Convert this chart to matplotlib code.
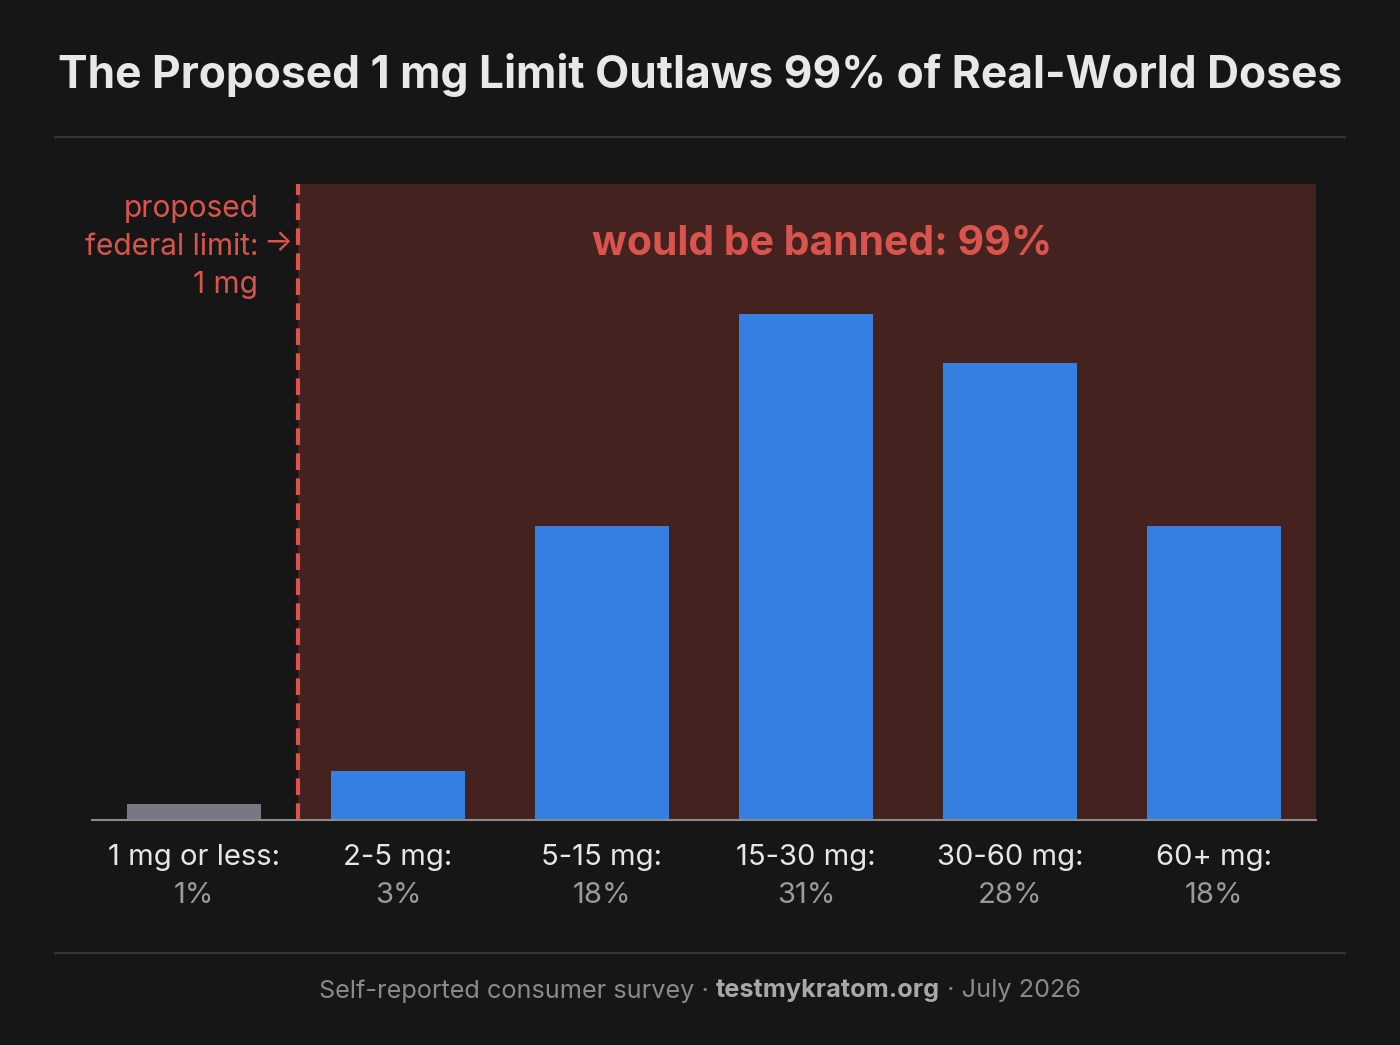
import matplotlib
matplotlib.use("Agg")
import matplotlib.pyplot as plt

# data
categories = ["1 mg or less:", "2-5 mg:", "5-15 mg:", "15-30 mg:", "30-60 mg:", "60+ mg:"]
shares = [1, 3, 18, 31, 28, 18]
share_labels = ["1%", "3%", "18%", "31%", "28%", "18%"]
limit_pos = 0.51  # between first and second bin
banned_text = "would be banned: 99%"

bg = "#161616"
blue = "#3580e0"
grey_bar = "#787882"
red = "#d9544d"
shade = "#44221f"

plt.rcParams['font.family'] = ['Inter', 'DejaVu Sans']

fig = plt.figure(figsize=(14, 10.45), dpi=100, facecolor=bg)
ax = fig.add_axes([0.0657, 0.2153, 0.8743, 0.6087])
ax.set_facecolor(bg)

x = list(range(len(categories)))
colors = [grey_bar] + [blue] * (len(categories) - 1)
ax.bar(x, shares, width=0.66, color=colors, zorder=3)

ax.set_xlim(-0.5, 5.5)
ax.set_ylim(0, 39)
ax.axvspan(limit_pos, 5.5, color=shade, zorder=1, lw=0)
ax.axvline(limit_pos, color=red, lw=3, ls=(0, (4, 2)), zorder=4)

for s in ["top", "right", "left"]:
    ax.spines[s].set_visible(False)
ax.spines["bottom"].set_color("#8a8a8a")
ax.spines["bottom"].set_linewidth(1.5)
ax.spines["bottom"].set_zorder(5)
ax.set_yticks([])
ax.set_xticks([])

tr = ax.get_xaxis_transform()
for i, (c, p) in enumerate(zip(categories, share_labels)):
    ax.text(i, -0.059, c, transform=tr, ha="center", va="center",
            color="#e6e6e6", fontsize=21)
    ax.text(i, -0.118, p, transform=tr, ha="center", va="center",
            color="#9a9a9a", fontsize=21)

ax.text(3.08, 35.3, banned_text, ha="center", va="center", color=red,
        fontsize=29.5, fontweight="bold", zorder=6)

ax.text(limit_pos - 0.195, 35.15, "proposed\nfederal limit:\n1 mg", ha="right", va="center",
        color=red, fontsize=21.5, linespacing=1.45, zorder=6)
ax.text(0.482, 35.35, "\u2192", ha="right", va="center",
        color=red, fontsize=22, zorder=6)

# title
fig.text(0.5, 0.928, "The Proposed 1 mg Limit Outlaws 99% of Real-World Doses",
         ha="center", va="center", color="#e8e8e8", fontsize=31.9, fontweight="bold")

# separators
for yy in [1 - 137 / 1045, 1 - 953 / 1045]:
    fig.add_artist(plt.Line2D([55 / 1400, 1345 / 1400], [yy, yy], color="#3a3a3a", lw=1.3))

# footer, three pieces
fy = 1 - 991 / 1045
parts = [("Self-reported consumer survey \u00b7 ", "normal", "#8a8a8a"),
         ("testmykratom.org", "bold", "#a8a8a8"),
         (" \u00b7 July 2026", "normal", "#8a8a8a")]
r = fig.canvas.get_renderer()
texts = []
for s, w, c in parts:
    t = fig.text(0, fy, s, ha="left", va="center", color=c, fontsize=18.2, fontweight=w)
    texts.append(t)
widths = [t.get_window_extent(r).width for t in texts]
total = sum(widths)
xpos = (1400 - total) / 2
for t, w in zip(texts, widths):
    t.set_x(xpos / 1400)
    xpos += w

fig.savefig("out.png", dpi=100, facecolor=bg)
